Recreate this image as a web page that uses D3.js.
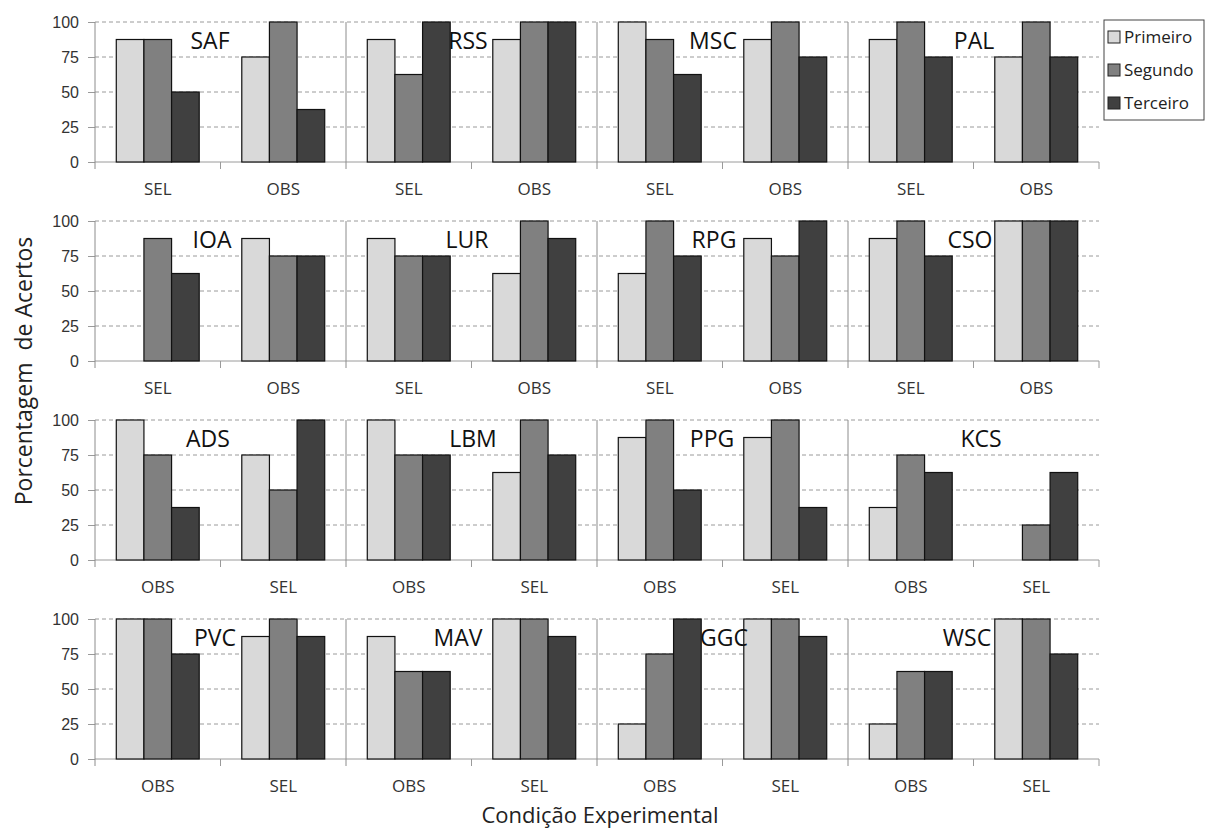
<!DOCTYPE html>
<meta charset="utf-8">
<head>
  <style>
    html, body { margin: 0; padding: 0; background: #fff; }
    svg { font-family: 'Open Sans', 'DejaVu Sans', sans-serif; }
  </style>
  <script src="https://d3js.org/d3.v7.min.js"></script>
</head>
<body>
  <div id="my_dataviz"></div>
  <script>

    // Participants, four per row, in the order they appear
    const subjects = ["SAF", "RSS", "MSC", "PAL",
                      "IOA", "LUR", "RPG", "CSO",
                      "ADS", "LBM", "PPG", "KCS",
                      "PVC", "MAV", "GGC", "WSC"];

    // Order of the two conditions in each row
    const conditionOrder = [["SEL", "OBS"], ["SEL", "OBS"], ["OBS", "SEL"], ["OBS", "SEL"]];

    const series = ["Primeiro", "Segundo", "Terceiro"];

    // % de acertos per subject: [first condition, second condition]
    const primeiro = [[87.5, 75], [87.5, 87.5], [100, 87.5], [87.5, 75],
                      [0, 87.5], [87.5, 62.5], [62.5, 87.5], [87.5, 100],
                      [100, 75], [100, 62.5], [87.5, 87.5], [37.5, 0],
                      [100, 87.5], [87.5, 100], [25, 100], [25, 100]];
    const segundo = [[87.5, 100], [62.5, 100], [87.5, 100], [100, 100],
                     [87.5, 75], [75, 100], [100, 75], [100, 100],
                     [75, 50], [75, 100], [100, 100], [75, 25],
                     [100, 100], [62.5, 100], [75, 100], [62.5, 100]];
    const terceiro = [[50, 37.5], [100, 100], [62.5, 75], [75, 75],
                      [62.5, 75], [75, 87.5], [75, 100], [75, 100],
                      [37.5, 100], [75, 75], [50, 37.5], [62.5, 62.5],
                      [75, 87.5], [62.5, 87.5], [100, 87.5], [62.5, 75]];

    const yTicks = [0, 25, 50, 75, 100];

    // horizontal offset of each panel title inside its panel (layout only)
    const titleOffset = [115, 122, 116, 126, 117, 121, 117, 122,
                         113, 127, 115, 133, 120, 112, 127, 119];

    const colors = { Primeiro: "#d9d9d9", Segundo: "#808080", Terceiro: "#404040" };
    const values = { Primeiro: primeiro, Segundo: segundo, Terceiro: terceiro };

    const W = 1206, H = 832;
    const plotLeft = 95, plotRight = 1099;
    const rowTop0 = 22, rowStep = 199, plotH = 140;

    const svg = d3.select("#my_dataviz")
      .append("svg")
      .attr("width", W)
      .attr("height", H);

    const xPanel = d3.scaleBand().domain(d3.range(4)).range([plotLeft, plotRight]);
    const xGroup = d3.scaleBand().domain([0, 1]).range([0, xPanel.bandwidth()]);
    const xSeries = d3.scaleBand().domain(series).range([0, xGroup.bandwidth()])
      .paddingInner(0).paddingOuter(0.77);

    for (let r = 0; r < 4; r++) {
      const top = rowTop0 + r * rowStep;
      const y = d3.scaleLinear().domain([0, 100]).range([top + plotH, top]);
      const row = svg.append("g");

      // dashed gridlines
      row.selectAll(".grid")
        .data(yTicks.filter(t => t > 0))
        .join("line")
        .attr("x1", plotLeft).attr("x2", plotRight)
        .attr("y1", d => y(d)).attr("y2", d => y(d))
        .attr("stroke", "#9a9a9a")
        .attr("stroke-dasharray", "4,3");

      // y axis labels (only at left)
      row.append("g")
        .attr("transform", `translate(${plotLeft},0)`)
        .call(d3.axisLeft(y).tickValues(yTicks).tickSize(7).tickSizeOuter(0).tickPadding(9))
        .call(g => g.select(".domain").remove())
        .call(g => g.selectAll(".tick line").attr("stroke", "#9a9a9a"))
        .call(g => g.selectAll("text")
          .style("font-size", "16px")
          .attr("fill", "#333"));

      // baseline
      row.append("line")
        .attr("x1", plotLeft).attr("x2", plotRight)
        .attr("y1", y(0)).attr("y2", y(0))
        .attr("stroke", "#9a9a9a");

      // panel separators (full height) and right edge tick
      row.selectAll(".sep")
        .data(d3.range(4))
        .join("line")
        .attr("x1", d => xPanel(d)).attr("x2", d => xPanel(d))
        .attr("y1", y(100)).attr("y2", y(0) + 7)
        .attr("stroke", "#8c8c8c");
      row.append("line")
        .attr("x1", plotRight).attr("x2", plotRight)
        .attr("y1", y(0)).attr("y2", y(0) + 7)
        .attr("stroke", "#9a9a9a");

      for (let p = 0; p < 4; p++) {
        const idx = r * 4 + p;
        const px = xPanel(p);
        const panel = row.append("g").attr("transform", `translate(${px},0)`);

        // tick between the two groups
        panel.append("line")
          .attr("x1", xGroup(1)).attr("x2", xGroup(1))
          .attr("y1", y(0)).attr("y2", y(0) + 7)
          .attr("stroke", "#9a9a9a");

        const bars = [];
        [0, 1].forEach(g => {
          series.forEach(s => bars.push({ g: g, s: s, v: values[s][idx][g] }));
        });

        panel.selectAll("rect")
          .data(bars)
          .join("rect")
          .attr("x", d => xGroup(d.g) + xSeries(d.s))
          .attr("y", d => y(d.v))
          .attr("width", xSeries.bandwidth())
          .attr("height", d => y(0) - y(d.v))
          .attr("fill", d => colors[d.s])
          .attr("stroke", d => d.v > 0 ? "#111" : "none")
          .attr("stroke-width", 1.2);

        // condition labels
        panel.selectAll(".cond")
          .data(conditionOrder[r])
          .join("text")
          .attr("x", (d, i) => xGroup(i) + xGroup.bandwidth() / 2)
          .attr("y", y(0) + 33)
          .attr("text-anchor", "middle")
          .style("font-size", "17px")
          .attr("fill", "#333")
          .text(d => d);

        // participant title
        panel.append("text")
          .attr("x", titleOffset[idx])
          .attr("y", top + 27)
          .attr("text-anchor", "middle")
          .style("font-size", "23px")
          .attr("fill", "#111")
          .text(subjects[idx]);
      }
    }

    // axis titles
    svg.append("text")
      .attr("x", 600)
      .attr("y", 823)
      .attr("text-anchor", "middle")
      .style("font-size", "22px")
      .attr("fill", "#222")
      .text("Condição Experimental");

    svg.append("text")
      .attr("transform", "translate(32,371) rotate(-90)")
      .attr("text-anchor", "middle")
      .style("font-size", "23px")
      .style("white-space", "pre")
      .attr("fill", "#222")
      .text("Porcentagem  de Acertos");

    // legend
    const legend = svg.append("g").attr("transform", "translate(1104,20)");
    legend.append("rect")
      .attr("width", 100).attr("height", 100)
      .attr("fill", "#fff").attr("stroke", "#444");
    legend.selectAll(".item")
      .data(series)
      .join("g")
      .attr("transform", (d, i) => `translate(0,${17 + i * 33})`)
      .call(g => g.append("rect")
        .attr("x", 4).attr("y", -6)
        .attr("width", 12).attr("height", 12)
        .attr("fill", d => colors[d])
        .attr("stroke", "#222"))
      .call(g => g.append("text")
        .attr("x", 20).attr("y", 6)
        .style("font-size", "17px")
        .attr("fill", "#222")
        .text(d => d));

  </script>
</body>
